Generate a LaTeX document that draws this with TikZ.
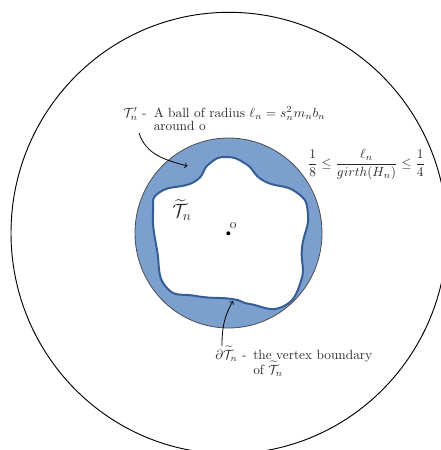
\documentclass[tikz,border=0pt]{standalone}
\usepackage{amsmath}
\definecolor{annulus}{HTML}{7BA0CE}
\definecolor{blobline}{HTML}{365E96}
\definecolor{txt}{HTML}{2A2A2A}
\begin{document}
\begin{tikzpicture}[x=0.75pt,y=-0.75pt,
  lbl/.style={inner sep=0pt,anchor=base west,text=txt,font=\fontsize{10pt}{12pt}\selectfont},
  arr/.style={->,line width=0.6pt,black}]
\useasboundingbox (0,0) rectangle (441,450);
\clip (0,0) rectangle (441,450);
% outer circle
\draw[line width=0.7pt] (229,233) ellipse [x radius=218, y radius=220.7];
% ball
\draw[fill=annulus,draw=black!70,line width=0.6pt] (228.5,233) ellipse [x radius=93.5, y radius=95];
% inner wavy region
\draw[fill=white,draw=blobline,line width=1.5pt] plot[smooth cycle,tension=0.85] coordinates {
 (226,157) (246,164) (264,181) (296,192) (308,214) (302,248) (301,281)
 (282,307) (250,304) (232,299) (196,296) (166,287) (157,250) (153,212)
 (160,192) (194,182) (209,164)};
% center
\fill (228.3,233.3) circle[radius=2];
\node[lbl] (o) at (229.5,228) {o};
\node[inner sep=0pt,text=txt,font=\Large] (Tt) at (182,210) {$\widetilde{\mathcal{T}}_n$};
% top label
\node[lbl] (tp) at (123,117) {$\mathcal{T}'_n$ -};
\node[lbl] (ball) at (153.5,117) {A ball of radius $\ell_n = s_n^2 m_n b_n$};
\node[lbl] (around) at (153.5,130) {around o};
\coordinate (a1s) at (139,133);
\coordinate (a1e) at (187.5,166);
\draw[arr] (a1s) to[out=-72,in=165] (a1e);
% fraction
\node[inner sep=0pt,text=txt] (frac) at (366.5,164.5) {$\dfrac{1}{8}\le\dfrac{\ell_n}{girth(H_n)}\le\dfrac{1}{4}$};
% bottom label
\node[lbl] (dT) at (215,359) {$\partial\widetilde{\mathcal{T}}_n$ -};
\node[lbl] (vb) at (253,359) {the vertex boundary};
\node[lbl] (of) at (253,374) {of $\widetilde{\mathcal{T}}_n$};
\coordinate (a2s) at (222,346);
\coordinate (a2e) at (233,301);
\draw[arr] (a2s) to[out=90,in=240] (a2e);
\end{tikzpicture}
\end{document}
